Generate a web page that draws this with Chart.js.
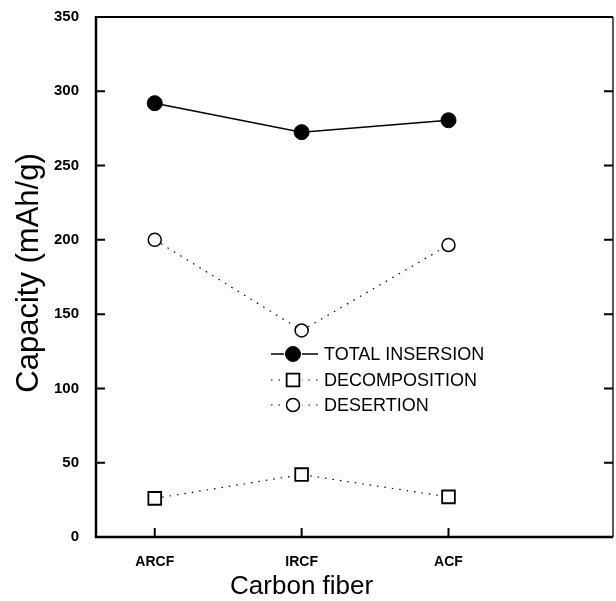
<!DOCTYPE html>
<html lang="en">
<head>
    <meta charset="UTF-8">
    <title>Capacity by carbon fiber</title>
    <style>
        body {
            margin: 0;
            background-color: #ffffff;
        }
        #wrap {
            width: 616px;
            height: 601px;
        }
    </style>
    <script src="https://cdn.jsdelivr.net/npm/chart.js"></script>
</head>
<body>
    <div id="wrap">
        <canvas id="capacityChart" width="616" height="601"></canvas>
    </div>
    <script>
        const fibers = ['ARCF', 'IRCF', 'ACF'];
        const totalInsertion = [292, 272.5, 280.5];
        const decomposition = [26, 42, 27];
        const desertion = [200, 139, 196.5];
        const yTicks = [0, 50, 100, 150, 200, 250, 300, 350];

        const FONT = '"Liberation Sans", Arial, sans-serif';

        const toPoints = (vals) => vals.map((v, i) => ({ x: i + 1, y: v }));

        // frame, inward ticks, axis titles and the legend box
        const decorations = {
            id: 'decorations',
            afterDraw(chart) {
                const ctx = chart.ctx;
                const area = chart.chartArea;
                const xs = chart.scales.x;
                const ys = chart.scales.y;
                ctx.save();
                ctx.strokeStyle = '#000';
                ctx.lineCap = 'butt';

                // axis frame
                ctx.lineWidth = 2.5;
                ctx.beginPath();
                ctx.moveTo(area.left, area.top - 1);
                ctx.lineTo(area.left, area.bottom);
                ctx.lineTo(area.right, area.bottom);
                ctx.stroke();
                ctx.lineWidth = 2;
                ctx.beginPath();
                ctx.moveTo(area.left, area.top);
                ctx.lineTo(area.right, area.top);
                ctx.stroke();
                ctx.lineWidth = 1.3;
                ctx.beginPath();
                ctx.moveTo(area.right, area.top);
                ctx.lineTo(area.right, area.bottom);
                ctx.stroke();

                // inward ticks
                ctx.lineWidth = 2;
                yTicks.forEach(v => {
                    const y = ys.getPixelForValue(v);
                    ctx.beginPath();
                    ctx.moveTo(area.left, y);
                    ctx.lineTo(area.left + 9, y);
                    ctx.moveTo(area.right, y);
                    ctx.lineTo(area.right - 9, y);
                    ctx.stroke();
                });
                fibers.forEach((f, i) => {
                    const x = xs.getPixelForValue(i + 1);
                    ctx.beginPath();
                    ctx.moveTo(x, area.bottom);
                    ctx.lineTo(x, area.bottom - 9);
                    ctx.stroke();
                });

                // axis titles
                ctx.fillStyle = '#000';
                ctx.font = '26px ' + FONT;
                ctx.textAlign = 'center';
                ctx.textBaseline = 'middle';
                ctx.fillText('Carbon fiber', xs.getPixelForValue(2), 587);
                ctx.font = '31px ' + FONT;
                ctx.translate(29, 273);
                ctx.rotate(-Math.PI / 2);
                ctx.fillText('Capacity (mAh/g)', 0, 0);
                ctx.restore();

                // legend: line, marker, line, then label
                ctx.save();
                const rows = [354, 380, 405];
                chart.data.datasets.forEach((ds, i) => {
                    const y = rows[i];
                    ctx.strokeStyle = '#000';
                    ctx.lineWidth = ds.borderWidth;
                    ctx.setLineDash(ds.borderDash || []);
                    ctx.beginPath();
                    ctx.moveTo(271, y);
                    ctx.lineTo(318, y);
                    ctx.stroke();
                    ctx.setLineDash([]);
                    ctx.fillStyle = '#fff';
                    ctx.fillRect(284, y - 8, 18, 16);
                    ctx.fillStyle = ds.pointBackgroundColor;
                    ctx.strokeStyle = '#000';
                    ctx.lineWidth = ds.pointBorderWidth;
                    ctx.beginPath();
                    if (ds.pointStyle === 'rect') {
                        const s = ds.pointRadius * Math.SQRT1_2;
                        ctx.rect(293 - s, y - s, 2 * s, 2 * s);
                    } else {
                        ctx.arc(293, y, ds.pointRadius, 0, Math.PI * 2);
                    }
                    ctx.fill();
                    ctx.stroke();
                    ctx.fillStyle = '#000';
                    ctx.font = '18px ' + FONT;
                    ctx.textAlign = 'left';
                    ctx.textBaseline = 'middle';
                    ctx.fillText(ds.label, 324, y + 1);
                });
                ctx.restore();
            }
        };

        const ctx = document.getElementById('capacityChart').getContext('2d');
        new Chart(ctx, {
            type: 'line',
            data: {
                datasets: [{
                    label: 'TOTAL INSERSION',
                    data: toPoints(totalInsertion),
                    borderColor: '#000',
                    borderWidth: 1.5,
                    pointStyle: 'circle',
                    pointRadius: 7.5,
                    pointBackgroundColor: '#000',
                    pointBorderColor: '#000',
                    pointBorderWidth: 1
                }, {
                    label: 'DECOMPOSITION',
                    data: toPoints(decomposition),
                    borderColor: '#000',
                    borderWidth: 1.2,
                    borderDash: [1.5, 6],
                    pointStyle: 'rect',
                    pointRadius: 9,
                    pointBackgroundColor: '#fff',
                    pointBorderColor: '#000',
                    pointBorderWidth: 1.8
                }, {
                    label: 'DESERTION',
                    data: toPoints(desertion),
                    borderColor: '#000',
                    borderWidth: 1.2,
                    borderDash: [1.5, 6],
                    pointStyle: 'circle',
                    pointRadius: 6.5,
                    pointBackgroundColor: '#fff',
                    pointBorderColor: '#000',
                    pointBorderWidth: 1.5
                }]
            },
            options: {
                responsive: false,
                animation: false,
                layout: {
                    autoPadding: false,
                    padding: { top: 17, right: 3, left: 0, bottom: 0 }
                },
                plugins: {
                    legend: { display: false },
                    tooltip: { enabled: false }
                },
                scales: {
                    x: {
                        type: 'linear',
                        min: 0.6,
                        max: 4.12,
                        grid: { display: false },
                        border: { display: false },
                        afterBuildTicks: (scale) => {
                            scale.ticks = fibers.map((f, i) => ({ value: i + 1 }));
                        },
                        afterFit: (scale) => {
                            scale.height = 64;
                            scale.paddingLeft = 0;
                            scale.paddingRight = 0;
                        },
                        ticks: {
                            padding: 9,
                            color: '#000',
                            font: { family: FONT, size: 14, weight: 'bold' },
                            callback: (v) => fibers[v - 1] || ''
                        }
                    },
                    y: {
                        min: 0,
                        max: 350,
                        grid: { display: false },
                        border: { display: false },
                        afterBuildTicks: (scale) => {
                            scale.ticks = yTicks.map(v => ({ value: v }));
                        },
                        afterFit: (scale) => {
                            scale.width = 96;
                            scale.paddingTop = 0;
                            scale.paddingBottom = 0;
                        },
                        ticks: {
                            padding: 9,
                            color: '#000',
                            font: { family: FONT, size: 15, weight: 'bold' }
                        }
                    }
                }
            },
            plugins: [decorations]
        });
    </script>
</body>
</html>
